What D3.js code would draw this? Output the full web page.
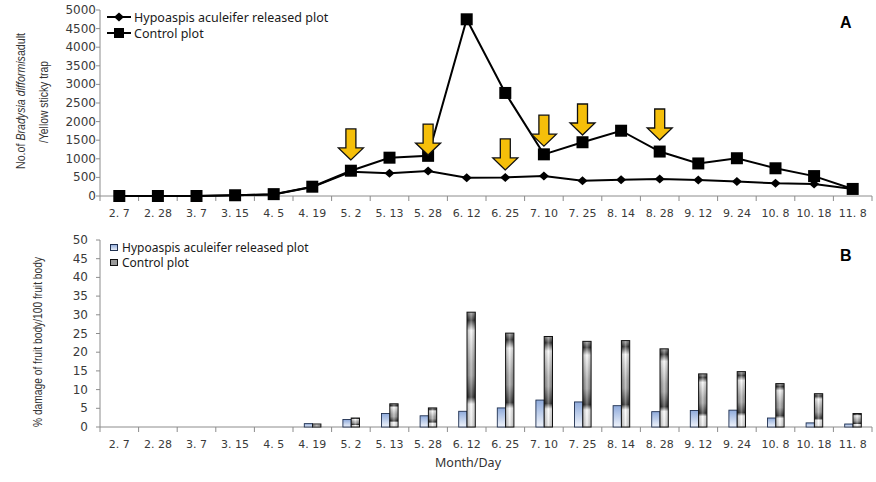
<!DOCTYPE html>
<html>
<head>
<meta charset="utf-8">
<script src="https://cdn.jsdelivr.net/npm/d3@7"></script>
<style>
body { margin: 0; background: #fff; }
svg { display: block; }
</style>
</head>
<body>
<svg width="876" height="482"></svg>

<script>

var dates = ["2. 7", "2. 28", "3. 7", "3. 15", "4. 5", "4. 19", "5. 2", "5. 13", "5. 28", "6. 12",
             "6. 25", "7. 10", "7. 25", "8. 14", "8. 28", "9. 12", "9. 24", "10. 8", "10. 18", "11. 8"];

// panel A: adults per yellow sticky trap
var releasedAdults = [0, 0, 0, 20, 40, 240, 650, 610, 670, 490, 500, 540, 410, 440, 460, 430, 390, 340, 320, 190];
var controlAdults  = [0, 0, 0, 20, 50, 250, 680, 1030, 1080, 4750, 2770, 1120, 1445, 1755, 1195, 875, 1015, 745, 535, 190];

// release dates marked with arrows, tip value in trap counts
var arrowDates = ["5. 2", "5. 28", "6. 25", "7. 10", "7. 25", "8. 28"];
var arrowTips  = [970, 1100, 700, 1340, 1640, 1505];

// panel B: % damage of fruit body
var releasedDamage = [0, 0, 0, 0, 0, 0.9, 2.0, 3.6, 3.0, 4.2, 5.1, 7.2, 6.7, 5.7, 4.1, 4.4, 4.5, 2.4, 1.1, 0.8];
var controlDamage  = [0, 0, 0, 0, 0, 0.8, 2.4, 6.2, 5.1, 30.7, 25.1, 24.2, 22.9, 23.1, 20.9, 14.2, 14.8, 11.6, 8.9, 3.6];

var adultTicks = d3.range(0, 5001, 500);
var damageTicks = d3.range(0, 51, 5);

var seriesNames = ["Hypoaspis aculeifer released plot", "Control plot"];

var svg = d3.select("svg"),
    font = "'Noto Sans', sans-serif",
    tickFont = "'DejaVu Sans', sans-serif",
    titleFont = "'Liberation Sans', Arial, sans-serif";

var defs = svg.append("defs");

var blue = defs.append("linearGradient").attr("id", "blueBar")
    .attr("x1", 0).attr("y1", 0).attr("x2", 0).attr("y2", 1);
blue.append("stop").attr("offset", 0).attr("stop-color", "#8eaadb");
blue.append("stop").attr("offset", 1).attr("stop-color", "#f0f4fb");

var gray = defs.append("linearGradient").attr("id", "grayBar")
    .attr("x1", 0).attr("y1", 0).attr("x2", 0).attr("y2", 1);
[[0, "#9a9a9a"], [0.07, "#262626"], [0.16, "#fbfbfb"], [0.45, "#a8a8a8"], [0.55, "#9c9c9c"],
 [0.74, "#262626"], [0.8, "#ffffff"], [1, "#e8e8e8"]].forEach(function(s) {
  gray.append("stop").attr("offset", s[0]).attr("stop-color", s[1]);
});

var sheen = defs.append("linearGradient").attr("id", "sheen")
    .attr("x1", 0).attr("y1", 0).attr("x2", 1).attr("y2", 0);
sheen.append("stop").attr("offset", 0).attr("stop-color", "#000").attr("stop-opacity", 0.2);
sheen.append("stop").attr("offset", 0.5).attr("stop-color", "#fff").attr("stop-opacity", 0.35);
sheen.append("stop").attr("offset", 1).attr("stop-color", "#000").attr("stop-opacity", 0.2);

var x = d3.scaleBand().domain(dates).range([100, 872]);

// ---------- panel A ----------
var yA = d3.scaleLinear().domain([0, 5000]).range([196, 10]);

function drawAxes(y, ticks, yBase, labelX) {
  var g = svg.append("g");
  g.append("line").attr("x1", 100).attr("x2", 100)
      .attr("y1", y.range()[1]).attr("y2", yBase)
      .attr("stroke", "#8c8c8c");
  g.selectAll(".yt").data(ticks).enter().append("line")
      .attr("x1", 96).attr("x2", 100)
      .attr("y1", function(d) { return y(d); }).attr("y2", function(d) { return y(d); })
      .attr("stroke", "#8c8c8c");
  g.selectAll(".yl").data(ticks).enter().append("text")
      .attr("x", labelX).attr("y", function(d) { return y(d) + 4; })
      .attr("text-anchor", "end")
      .style("font", "12px " + tickFont).attr("fill", "#3a3a3a")
      .text(function(d) { return d; });
  g.append("line").attr("x1", 100).attr("x2", 872)
      .attr("y1", yBase).attr("y2", yBase).attr("stroke", "#8c8c8c");
  g.selectAll(".xt").data(dates.concat(["end"])).enter().append("line")
      .attr("x1", function(d, i) { return 100 + i * x.step(); })
      .attr("x2", function(d, i) { return 100 + i * x.step(); })
      .attr("y1", yBase).attr("y2", yBase + 5)
      .attr("stroke", "#8c8c8c");
  g.selectAll(".xl").data(dates).enter().append("text")
      .attr("x", function(d) { return x(d) + x.bandwidth() / 2; })
      .attr("y", yBase + 21)
      .attr("text-anchor", "middle")
      .style("font", "11px " + tickFont).attr("fill", "#3a3a3a")
      .text(function(d) { return d; });
}

drawAxes(yA, adultTicks, 196, 96);

var cx = function(d, i) { return x(dates[i]) + x.bandwidth() / 2; };

var line = d3.line()
    .x(function(d, i) { return cx(d, i); })
    .y(function(d) { return yA(d); });

svg.append("path").datum(controlAdults)
    .attr("d", line).attr("fill", "none").attr("stroke", "#000").attr("stroke-width", 2);
svg.append("path").datum(releasedAdults)
    .attr("d", line).attr("fill", "none").attr("stroke", "#000").attr("stroke-width", 2);

svg.selectAll(".sq").data(controlAdults).enter().append("rect")
    .attr("x", function(d, i) { return cx(d, i) - 6; })
    .attr("y", function(d) { return yA(d) - 6; })
    .attr("width", 12).attr("height", 12).attr("fill", "#000");

var diamond = "M0,-4.5L5,0L0,4.5L-5,0Z";
svg.selectAll(".dm").data(releasedAdults).enter().append("path")
    .attr("d", diamond)
    .attr("transform", function(d, i) { return "translate(" + cx(d, i) + "," + yA(d) + ")"; })
    .attr("fill", "#000");

// arrows
svg.selectAll(".arrow").data(arrowDates).enter().append("path")
    .attr("transform", function(d, i) {
      return "translate(" + (x(d) + x.bandwidth() / 2) + "," + yA(arrowTips[i]) + ")";
    })
    .attr("d", "M0,0 L-12.5,-12 L-5,-12 L-5,-31 L5,-31 L5,-12 L12.5,-12 Z")
    .attr("fill", "#f5bf0a").attr("stroke", "#111").attr("stroke-width", 1.3)
    .attr("stroke-linejoin", "miter");

// legend A
var legA = svg.append("g");
legA.append("line").attr("x1", 107).attr("x2", 131).attr("y1", 17).attr("y2", 17)
    .attr("stroke", "#000").attr("stroke-width", 2);
legA.append("path").attr("d", diamond).attr("transform", "translate(119,17)").attr("fill", "#000");
legA.append("line").attr("x1", 107).attr("x2", 131).attr("y1", 33).attr("y2", 33)
    .attr("stroke", "#000").attr("stroke-width", 2);
legA.append("rect").attr("x", 114).attr("y", 28).attr("width", 10).attr("height", 10).attr("fill", "#000");
legA.selectAll("text").data(seriesNames).enter().append("text")
    .attr("x", 134).attr("y", function(d, i) { return 21.5 + i * 16; })
    .style("font", "12.5px " + font).attr("fill", "#1a1a1a")
    .text(function(d) { return d; });

svg.append("text").attr("x", 840).attr("y", 28)
    .style("font", "bold 16px " + titleFont).text("A");

var titleA = svg.append("text")
    .attr("transform", "translate(25,101) rotate(-90)")
    .attr("text-anchor", "middle")
    .attr("textLength", 136).attr("lengthAdjust", "spacingAndGlyphs")
    .style("font", "12px " + titleFont).attr("fill", "#333");
titleA.append("tspan").text("No.of ");
titleA.append("tspan").style("font-style", "italic").text("Bradysia difformis");
titleA.append("tspan").text("adult");
svg.append("text")
    .attr("transform", "translate(48,102) rotate(-90)")
    .attr("text-anchor", "middle")
    .attr("textLength", 82).attr("lengthAdjust", "spacingAndGlyphs")
    .style("font", "12px " + titleFont).attr("fill", "#333")
    .text("/Yellow sticky trap");

// ---------- panel B ----------
var yB = d3.scaleLinear().domain([0, 50]).range([427, 240]);

drawAxes(yB, damageTicks, 427, 88);

var xs = d3.scaleBand().domain(["released", "control"]).range([-8, 8.6]);

var damageRows = dates.map(function(d, i) {
  return {date: d, released: releasedDamage[i], control: controlDamage[i]};
});

var barG = svg.append("g");
damageRows.forEach(function(r) {
  var c = x(r.date) + x.bandwidth() / 2;
  if (r.released > 0) {
    barG.append("rect")
        .attr("x", c + xs("released")).attr("width", xs.bandwidth())
        .attr("y", yB(r.released)).attr("height", yB(0) - yB(r.released))
        .attr("fill", "url(#blueBar)").attr("stroke", "#1f3050").attr("stroke-width", 0.9);
  }
  if (r.control > 0) {
    barG.append("rect")
        .attr("x", c + xs("control")).attr("width", xs.bandwidth())
        .attr("y", yB(r.control)).attr("height", yB(0) - yB(r.control))
        .attr("fill", "url(#grayBar)");
    barG.append("rect")
        .attr("x", c + xs("control")).attr("width", xs.bandwidth())
        .attr("y", yB(r.control)).attr("height", yB(0) - yB(r.control))
        .attr("fill", "url(#sheen)").attr("stroke", "#111").attr("stroke-width", 1);
  }
});

// legend B
var legB = svg.append("g");
legB.append("rect").attr("x", 110.5).attr("y", 244.5).attr("width", 7).attr("height", 6)
    .attr("fill", "url(#blueBar)").attr("stroke", "#1f3050");
legB.append("rect").attr("x", 110.5).attr("y", 259.5).attr("width", 7).attr("height", 6)
    .attr("fill", "#9a9a9a").attr("stroke", "#111");
legB.selectAll("text").data(seriesNames).enter().append("text")
    .attr("x", 122).attr("y", function(d, i) { return 251.5 + i * 15.5; })
    .style("font", "12px " + font).attr("fill", "#1a1a1a")
    .text(function(d) { return d; });

svg.append("text").attr("x", 840).attr("y", 261)
    .style("font", "bold 16px " + titleFont).text("B");

svg.append("text")
    .attr("transform", "translate(42,342) rotate(-90)")
    .attr("text-anchor", "middle")
    .attr("textLength", 170).attr("lengthAdjust", "spacingAndGlyphs")
    .style("font", "12.5px " + titleFont).attr("fill", "#333")
    .text("% damage of fruit body/100 fruit body");

svg.append("text").attr("x", 468).attr("y", 467)
    .attr("text-anchor", "middle")
    .style("font", "12.5px " + font).attr("fill", "#333")
    .text("Month/Day");

</script>
</body>
</html>
